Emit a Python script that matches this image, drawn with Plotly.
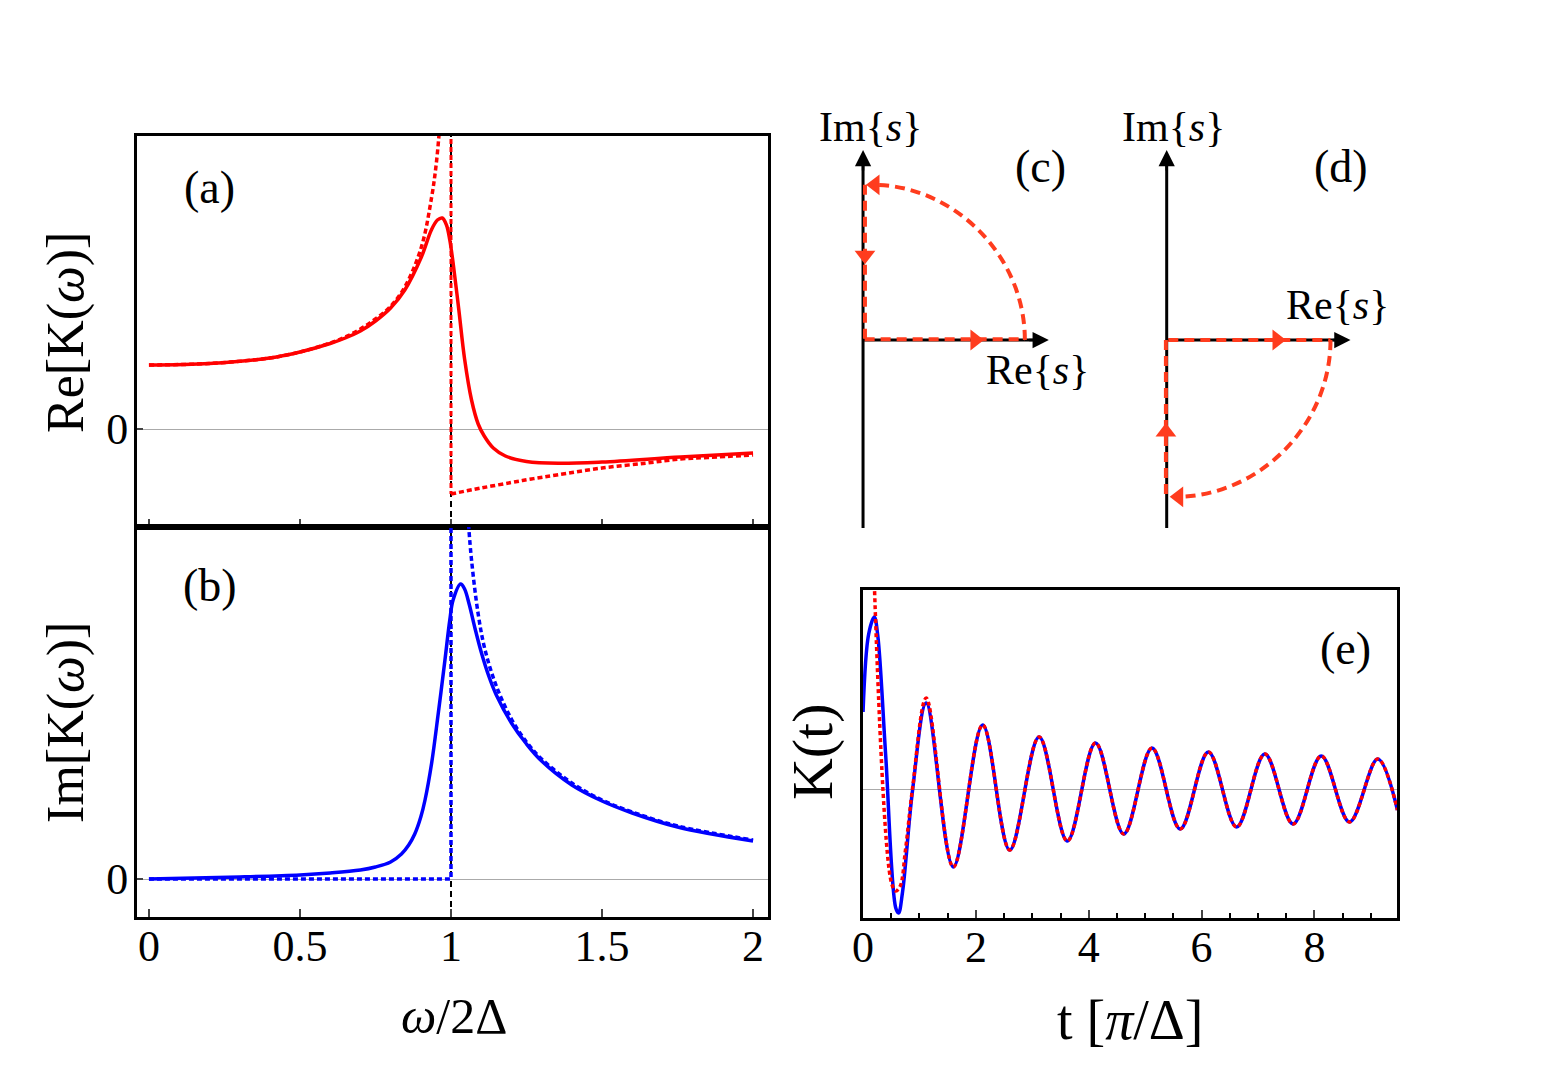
import plotly.graph_objects as go

W, H = 1546, 1069
# small empirical horizontal correction of the rendering
def px(x): return ((x - 9) / 0.994) / W
def py(y): return 1 - y / H

FONT = "Liberation Serif, Times New Roman, serif"
RED = "#ff0000"
BLUE = "#0000ff"
CONTOUR = "#ff3c1e"

# ---------------- panel (a): Re[K(w)] ----------------
w_re_solid = [0, 0.2, 0.4, 0.5, 0.6, 0.65, 0.7, 0.75, 0.8, 0.847, 0.902, 0.935, 0.955, 0.971, 0.985,
              0.996, 1.007, 1.026, 1.045, 1.068, 1.09, 1.11, 1.14, 1.18, 1.25, 1.355, 1.5, 1.76, 2.0]
re_solid = [0.64, 0.655, 0.71, 0.77, 0.855, 0.91, 0.98, 1.08, 1.21, 1.39, 1.72, 1.99, 2.09, 2.11, 2.04,
            1.89, 1.66, 1.19, 0.70, 0.29, 0.05, -0.07, -0.19, -0.27, -0.325, -0.343, -0.33, -0.28, -0.24]

w_re_dot_left = [0, 0.2, 0.4, 0.5, 0.6, 0.65, 0.7, 0.75, 0.798, 0.847, 0.902, 0.936, 0.95, 0.96, 0.966]
re_dot_left = [0.64, 0.655, 0.71, 0.77, 0.86, 0.92, 1.00, 1.10, 1.22, 1.42, 1.82, 2.32, 2.62, 2.93, 3.2]
w_re_dot_jump = [1.0, 1.0]
re_dot_jump = [3.3, -0.65]
w_re_dot_right = [1.0, 1.1, 1.2, 1.266, 1.35, 1.5, 1.65, 1.76, 1.85, 2.0]
re_dot_right = [-0.65, -0.59, -0.535, -0.50, -0.46, -0.39, -0.34, -0.30, -0.285, -0.26]

# ---------------- panel (b): Im[K(w)] ----------------
w_im_solid = [0, 0.3, 0.5, 0.6, 0.7, 0.75, 0.8, 0.836, 0.86, 0.88, 0.9, 0.914, 0.936, 0.958, 0.98,
              0.996, 1.007, 1.032, 1.045, 1.06, 1.08, 1.10, 1.125, 1.15, 1.2, 1.25, 1.3, 1.4, 1.5,
              1.6, 1.75, 2.0]
im_solid = [0.0, 0.02, 0.04, 0.06, 0.09, 0.12, 0.17, 0.25, 0.34, 0.45, 0.62, 0.79, 1.16, 1.66, 2.19,
            2.59, 2.79, 2.95, 2.9, 2.75, 2.5, 2.27, 2.03, 1.84, 1.56, 1.35, 1.18, 0.94, 0.78,
            0.66, 0.52, 0.38]

w_im_dot_left = [0.0, 1.0, 1.0]
im_dot_left = [0.0, 0.0, 3.6]
w_im_dot_right = [1.058, 1.068, 1.09, 1.112, 1.15, 1.2, 1.25, 1.3, 1.4, 1.5, 1.6, 1.75, 2.0]
im_dot_right = [3.55, 3.19, 2.65, 2.3, 1.93, 1.6, 1.37, 1.2, 0.96, 0.79, 0.67, 0.53, 0.39]

w_ticks = [0, 0.5, 1, 1.5, 2]
w_ticktext = ["0", "0.5", "1", "1.5", "2"]

# ---------------- panel (e): K(t) ----------------
t_blue = [0, 0.1, 0.2, 0.26, 0.4, 0.58, 0.63, 0.7, 0.88, 1.12, 1.60,
          2.12, 2.60, 3.12, 3.62, 4.12, 4.62, 5.12, 5.62, 6.12, 6.62,
          7.12, 7.62, 8.12, 8.62, 9.12, 9.47]
k_blue = [0.77, 1.55, 1.72, 1.54, 0.35, -1.19, -1.24, -1.03, 0.0, 0.86, -0.78,
          0.64, -0.61, 0.52, -0.52, 0.46, -0.45, 0.41, -0.40, 0.37, -0.38,
          0.35, -0.35, 0.33, -0.33, 0.30, -0.21]
t_red_start = [0.2, 0.5, 0.58, 0.66, 0.75, 0.88, 1.12]
k_red_start = [2.05, -0.93, -1.02, -0.97, -0.62, 0.02, 0.91]
t_red = t_red_start + t_blue[10:]
k_red = k_red_start + k_blue[10:]

LW = 3.5
fig = go.Figure()

# (a)
fig.add_trace(go.Scatter(x=w_re_dot_left, y=re_dot_left, mode="lines", xaxis="x", yaxis="y",
                         line=dict(color=RED, width=LW, dash="5px,3px", shape="spline", smoothing=1.0)))
fig.add_trace(go.Scatter(x=w_re_dot_jump, y=re_dot_jump, mode="lines", xaxis="x", yaxis="y",
                         line=dict(color=RED, width=3, dash="5px,3px")))
fig.add_trace(go.Scatter(x=w_re_dot_right, y=re_dot_right, mode="lines", xaxis="x", yaxis="y",
                         line=dict(color=RED, width=LW, dash="5px,3px", shape="spline", smoothing=1.0)))
fig.add_trace(go.Scatter(x=w_re_solid, y=re_solid, mode="lines", xaxis="x", yaxis="y",
                         line=dict(color=RED, width=LW, shape="spline", smoothing=1.0)))
# (b)
fig.add_trace(go.Scatter(x=w_im_dot_left, y=im_dot_left, mode="lines", xaxis="x2", yaxis="y2",
                         line=dict(color=BLUE, width=LW, dash="5px,3px")))
fig.add_trace(go.Scatter(x=w_im_dot_right, y=im_dot_right, mode="lines", xaxis="x2", yaxis="y2",
                         line=dict(color=BLUE, width=LW, dash="5px,3px", shape="spline", smoothing=1.0)))
fig.add_trace(go.Scatter(x=w_im_solid, y=im_solid, mode="lines", xaxis="x2", yaxis="y2",
                         line=dict(color=BLUE, width=LW, shape="spline", smoothing=1.0)))
# (e)
fig.add_trace(go.Scatter(x=t_blue, y=k_blue, mode="lines", xaxis="x3", yaxis="y3",
                         line=dict(color=BLUE, width=3.5, shape="spline", smoothing=1.0)))
fig.add_trace(go.Scatter(x=t_red, y=k_red, mode="lines", xaxis="x3", yaxis="y3",
                         line=dict(color=RED, width=3.5, dash="4px,3px", shape="spline", smoothing=1.0)))

# ---------------- diagrams (c) and (d) ----------------
# axes units: 1 unit = 160 px, origin at crossing of the black axes
axis_vert_c = ([0, 0], [-1.175, 1.10])
axis_horiz_c = ([0, 1.08], [0, 0])
axis_vert_d = ([0, 0], [-1.175, 1.10])
axis_horiz_d = ([0, 1.07], [0, 0])
for xa, ya, (vx, vy), (hx, hy) in [("x4", "y4", axis_vert_c, axis_horiz_c), ("x5", "y5", axis_vert_d, axis_horiz_d)]:
    fig.add_trace(go.Scatter(x=vx, y=vy, mode="lines", xaxis=xa, yaxis=ya, line=dict(color="black", width=3)))
    fig.add_trace(go.Scatter(x=hx, y=hy, mode="lines", xaxis=xa, yaxis=ya, line=dict(color="black", width=3)))

fig.add_trace(go.Scatter(x=[0.01, 1.0125], y=[0.005, 0.005], mode="lines", xaxis="x4", yaxis="y4",
                         line=dict(color=CONTOUR, width=4, dash="10px,6px")))
fig.add_trace(go.Scatter(x=[0.012, 0.012], y=[0.97, 0.0], mode="lines", xaxis="x4", yaxis="y4",
                         line=dict(color=CONTOUR, width=4, dash="10px,6px")))
fig.add_trace(go.Scatter(x=[0.01, 1.025], y=[0.0, 0.0], mode="lines", xaxis="x5", yaxis="y5",
                         line=dict(color=CONTOUR, width=4, dash="10px,6px")))
fig.add_trace(go.Scatter(x=[-0.005, -0.005], y=[0.0, -0.98], mode="lines", xaxis="x5", yaxis="y5",
                         line=dict(color=CONTOUR, width=4, dash="10px,6px")))
fig.add_trace(go.Scatter(x=[0.70, 0.075, 0.012], y=[0.0, 0.97, 0.53], mode="markers", xaxis="x4", yaxis="y4",
                         marker=dict(symbol=["triangle-right", "triangle-left", "triangle-down"],
                                     size=18, color=CONTOUR, line=dict(width=0))))
fig.add_trace(go.Scatter(x=[0.69, 0.075, -0.005], y=[0.0, -0.98, -0.575], mode="markers", xaxis="x5", yaxis="y5",
                         marker=dict(symbol=["triangle-right", "triangle-left", "triangle-up"],
                                     size=18, color=CONTOUR, line=dict(width=0))))

k = 0.5523
shapes = [
    dict(type="line", xref="x", yref="paper", x0=1, x1=1, y0=py(917), y1=py(136),
         line=dict(color="black", width=2, dash="6px,4px"), layer="below"),
    dict(type="path", xref="x4", yref="y4",
         path=f"M 1.0125,0 C 1.0125,{k*0.97} {k*1.0125},0.97 0.06,0.97",
         line=dict(color=CONTOUR, width=4, dash="10px,6px")),
    dict(type="path", xref="x5", yref="y5",
         path=f"M 1.025,0 C 1.025,{-k*0.98} {k*1.025},-0.98 0.06,-0.98",
         line=dict(color=CONTOUR, width=4, dash="10px,6px")),
]

annotations = []
def arrow(xr, yr, x, y, ax, ay):
    annotations.append(dict(xref=xr, yref=yr, axref=xr, ayref=yr, x=x, y=y, ax=ax, ay=ay,
                            text="", showarrow=True, arrowhead=2, arrowsize=1.3, arrowwidth=2.5,
                            arrowcolor="black"))
arrow("x4", "y4", 0, 1.1875, 0, 1.05)
arrow("x4", "y4", 1.1625, 0, 1.03, 0)
arrow("x5", "y5", 0, 1.1875, 0, 1.05)
arrow("x5", "y5", 1.15, 0, 1.03, 0)

def label(x, y, text, size=46, angle=0):
    annotations.append(dict(xref="paper", yref="paper", x=px(x), y=py(y), text=text,
                            showarrow=False, xanchor="center", yanchor="middle", textangle=angle,
                            font=dict(family=FONT, size=size, color="black")))

label(208, 187, "(a)")
label(208, 585, "(b)")
label(1040, 167, "(c)")
label(1340, 167, "(d)")
label(1345, 648, "(e)")
label(869, 127, "Im{<i>s</i>}", 42)
label(1037, 370, "Re{<i>s</i>}", 42)
label(1173, 127, "Im{<i>s</i>}", 42)
label(1337, 305, "Re{<i>s</i>}", 42)
label(64, 332, "Re[K(<i>ω</i>)]", 52, -90)
label(64, 722, "Im[K(<i>ω</i>)]", 52, -90)
label(811, 752, "K(t)", 58, -90)
label(452, 1016, "<i>ω</i>/2Δ", 50)
label(1130, 1020, "t [<i>π</i>/Δ]", 56)

frame = dict(showline=True, mirror=True, linecolor="black", linewidth=2.5, showgrid=False)
tickfont = dict(family=FONT, size=44, color="black")

fig.update_layout(
    width=W, height=H, margin=dict(l=0, r=0, t=0, b=0),
    paper_bgcolor="white", plot_bgcolor="white", showlegend=False,
    xaxis=dict(domain=[px(135), px(767)], range=[-0.04, 2.05], tickvals=w_ticks, ticktext=w_ticktext,
               showticklabels=False, ticks="inside", ticklen=8, tickwidth=2, zeroline=False, **frame),
    yaxis=dict(domain=[py(527), py(136)], range=[-0.98, 2.93], tickvals=[0], ticktext=["0"],
               ticks="inside", ticklen=6, tickwidth=2, tickfont=tickfont, ticklabelstandoff=-3,
               zeroline=True, zerolinecolor="#aaaaaa", zerolinewidth=1, **frame),
    xaxis2=dict(domain=[px(135), px(767)], range=[-0.04, 2.05], tickvals=w_ticks, ticktext=w_ticktext,
                anchor="y2", ticks="inside", ticklen=8, tickwidth=2, tickfont=tickfont, ticklabelstandoff=-12,
                zeroline=False, **frame),
    yaxis2=dict(domain=[py(917), py(527)], range=[-0.38, 3.52], anchor="x2", tickvals=[0], ticktext=["0"],
                ticks="inside", ticklen=6, tickwidth=2, tickfont=tickfont, ticklabelstandoff=-3,
                zeroline=True, zerolinecolor="#aaaaaa", zerolinewidth=1, **frame),
    xaxis3=dict(domain=[px(862), px(1397)], range=[0, 9.47], anchor="y3", tick0=0, dtick=2,
                ticks="inside", ticklen=8, tickwidth=2, tickfont=tickfont, ticklabelstandoff=-12,
                minor=dict(dtick=0.5, ticks="inside", ticklen=5, tickwidth=1.5, tickcolor="black"),
                zeroline=False, **frame),
    yaxis3=dict(domain=[py(918), py(590)], range=[-1.29, 1.99], anchor="x3", showticklabels=False,
                ticks="", zeroline=True, zerolinecolor="#aaaaaa", zerolinewidth=1, **frame),
    xaxis4=dict(domain=[px(820), px(1100)], range=[-0.2625, 1.4875], anchor="y4", visible=False),
    yaxis4=dict(domain=[py(540), py(100)], range=[-1.25, 1.5], anchor="x4", visible=False),
    xaxis5=dict(domain=[px(1124), px(1404)], range=[-0.2625, 1.4875], anchor="y5", visible=False),
    yaxis5=dict(domain=[py(540), py(100)], range=[-1.25, 1.5], anchor="x5", visible=False),
    shapes=shapes, annotations=annotations,
)

fig.write_html("out.html")
